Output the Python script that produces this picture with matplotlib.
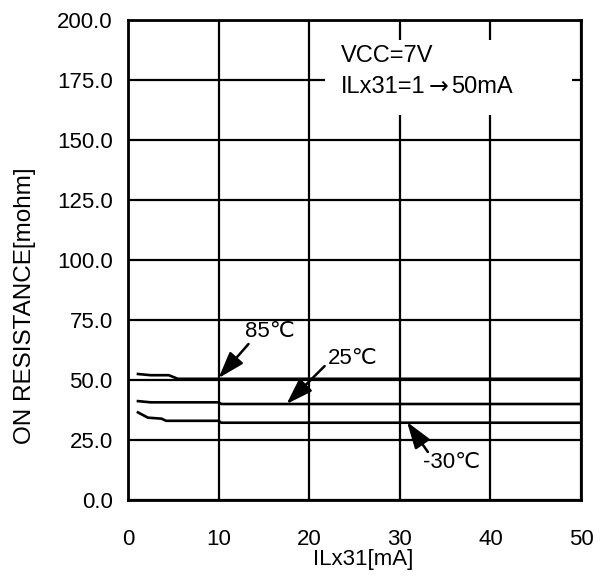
import matplotlib
matplotlib.use("Agg")
import matplotlib.pyplot as plt

plt.rcParams['font.family'] = ['Liberation Sans', 'DejaVu Sans']

# Data
x_85 = [1.1, 2.5, 4.5, 5.5, 10, 50]
y_85 = [52.5, 52.0, 52.0, 50.5, 50.5, 50.5]
x_25 = [1.1, 2.5, 10, 10.3, 50]
y_25 = [41.2, 40.7, 40.7, 40.0, 40.0]
x_m30 = [1.1, 2.2, 3.7, 4.2, 10, 10.3, 50]
y_m30 = [36.5, 34.3, 33.9, 33.0, 33.0, 32.2, 32.2]

xticks = [0, 10, 20, 30, 40, 50]
yticks = [0, 25, 50, 75, 100, 125, 150, 175, 200]

fig = plt.figure(figsize=(6.03, 5.83), dpi=100)
ax = fig.add_axes([128/603, 1-500/583, (581-128)/603, (500-20)/583])
ax.set_xlim(0, 50)
ax.set_ylim(0, 200)
ax.set_xticks(xticks)
ax.set_yticks(yticks)
ax.set_xticklabels([str(v) for v in xticks])
ax.set_yticklabels([f"{v:.1f}" for v in yticks])
ax.tick_params(length=0, labelsize=16)
ax.tick_params(axis='y', pad=11)
ax.tick_params(axis='x', pad=21)
ax.grid(True, color='black', linewidth=1.6)
ax.set_axisbelow(True)
for s in ax.spines.values():
    s.set_linewidth(2.0)
    s.set_color('black')

for xs, ys in [(x_85, y_85), (x_25, y_25), (x_m30, y_m30)]:
    ax.plot(xs, ys, color='black', linewidth=1.9, zorder=3)

# text box region hiding grid
ax.fill_between([21.7, 49.0], 160.4, 191.7, color='white', zorder=2, linewidth=0)
ax.text(23.5, 185, "VCC=7V", fontsize=17, va='center', ha='left', zorder=4)
t1 = ax.text(23.5, 171.9, "ILx31=1", fontsize=17, va='center', ha='left', zorder=4)
t2 = ax.annotate("\u2192", xy=(1, 0), xycoords=t1, xytext=(2.5, 0), textcoords='offset points',
                 fontsize=17, va='bottom', ha='left', family='DejaVu Sans', zorder=4)
t3 = ax.annotate("50mA", xy=(1, 0), xycoords=t2, xytext=(2, 0), textcoords='offset points',
                 fontsize=17, va='bottom', ha='left', zorder=4)

ap = dict(arrowstyle='-|>,head_length=0.9,head_width=0.3', color='black',
          linewidth=1.8, mutation_scale=18, shrinkA=0, shrinkB=0)
ax.annotate("", xy=(10.0, 50.8), xytext=(13.3, 65.0), arrowprops=ap, zorder=5)
ax.annotate("", xy=(17.5, 40.0), xytext=(21.7, 55.8), arrowprops=ap, zorder=5)
ax.annotate("", xy=(30.8, 32.5), xytext=(33.1, 20.0), arrowprops=ap, zorder=5)
ax.text(12.9, 70.4, "85\u2103", fontsize=16, ha='left', va='center', zorder=5)
ax.text(22.1, 58.8, "25\u2103", fontsize=16, ha='left', va='center', zorder=5)
ax.text(32.6, 15.8, "-30\u2103", fontsize=16, ha='left', va='center', zorder=5)

ax.set_xlabel("ILx31[mA]", fontsize=16)
ax.set_ylabel("ON RESISTANCE[mohm]", fontsize=17.5)
ax.yaxis.set_label_coords((25-128)/453, (500-306)/480)
ax.xaxis.set_label_coords((363-128)/453, -(559-500)/480)
ax.xaxis.label.set_va('center')
ax.yaxis.label.set_va('center')

fig.savefig("out.png", dpi=100)
